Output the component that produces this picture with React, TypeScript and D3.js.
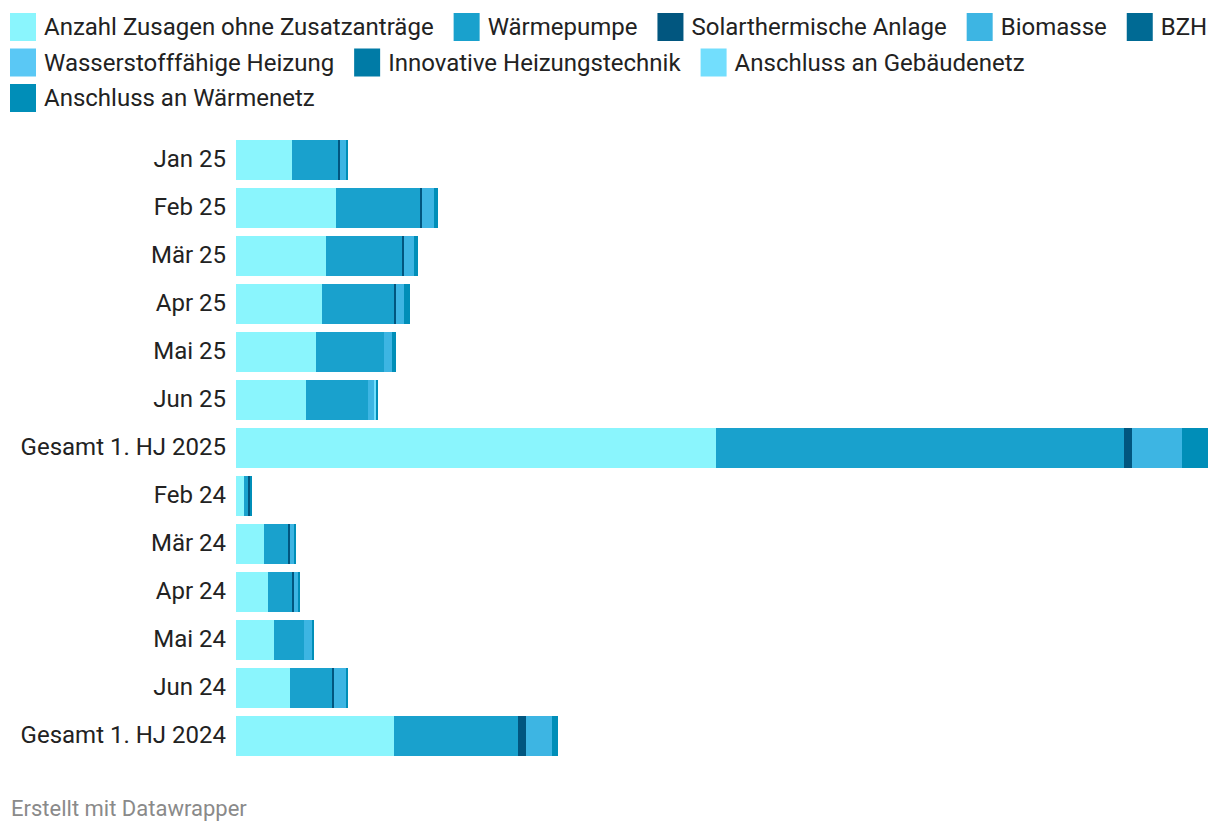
import React, { useEffect, useRef } from "react";
import * as d3 from "d3";

const categories = [
  "Jan 25", "Feb 25", "Mär 25", "Apr 25", "Mai 25", "Jun 25", "Gesamt 1. HJ 2025",
  "Feb 24", "Mär 24", "Apr 24", "Mai 24", "Jun 24", "Gesamt 1. HJ 2024",
];

const seriesNames = [
  "Anzahl Zusagen ohne Zusatzanträge", "Wärmepumpe", "Solarthermische Anlage", "Biomasse", "BZH",
  "Wasserstofffähige Heizung", "Innovative Heizungstechnik", "Anschluss an Gebäudenetz", "Anschluss an Wärmenetz",
];

const seriesColors = [
  "#8af5fd", "#19a1cd", "#01567f", "#3db5e3", "#006a94", "#5ac8f5", "#007ba6", "#72defd", "#008eb8",
];

// values per series, in category order (estimated)
const anzahl =      [5600, 10000, 9000, 8600, 8000, 7000, 48000, 800, 2800, 3200, 3800, 5400, 15800];
const waermepumpe = [4600, 8400, 7600, 7200, 6800, 6200, 40800, 400, 2400, 2400, 3000, 4200, 12400];
const solar =       [200, 200, 200, 200, 0, 0, 800, 200, 200, 200, 0, 200, 800];
const biomasse =    [600, 1200, 1000, 800, 800, 600, 5000, 0, 400, 400, 800, 1200, 2600];
const bzh =         [0, 0, 0, 0, 0, 0, 0, 0, 0, 0, 0, 0, 0];
const wasserstoff = [0, 0, 0, 0, 0, 0, 0, 0, 0, 0, 0, 0, 0];
const innovativ =   [0, 0, 0, 0, 0, 0, 0, 0, 0, 0, 0, 0, 0];
const gebaeudenetz = [0, 0, 0, 0, 0, 200, 0, 0, 0, 0, 0, 0, 0];
const waermenetz =  [200, 400, 400, 600, 400, 200, 2600, 200, 200, 200, 200, 200, 600];

const seriesValues = [anzahl, waermepumpe, solar, biomasse, bzh, wasserstoff, innovativ, gebaeudenetz, waermenetz];

const footerText = "Erstellt mit Datawrapper";

export default function App() {
  const ref = useRef<SVGSVGElement | null>(null);

  useEffect(() => {
    document.body.style.margin = "0";
    const svg = d3.select(ref.current);
    svg.selectAll("*").remove();
    const font = "Roboto, sans-serif";

    const rows = categories.map((c, i) => {
      const o: any = { cat: c };
      seriesNames.forEach((s, j) => (o[s] = seriesValues[j][i]));
      return o;
    });
    const stacked = d3.stack<any>().keys(seriesNames)(rows);
    const maxTotal = d3.max(rows, (r: any) => d3.sum(seriesNames, (s) => r[s])) as number;

    const x = d3.scaleLinear().domain([0, maxTotal]).range([236, 1208]);
    const y = d3.scaleBand<string>().domain(categories).range([136, 760]).paddingInner(8 / 48).paddingOuter(4 / 48);

    // Legend
    const lg = svg.append("g");
    let lx = 10;
    let row = 0;
    const rowCenters = [27, 62.5, 98];
    seriesNames.forEach((name, i) => {
      const g = lg.append("g");
      const t = g.append("text")
        .attr("x", 34).attr("y", 0).attr("dy", "0.35em")
        .attr("font-family", font).attr("font-size", 24).attr("fill", "#222")
        .text(name);
      const w = (t.node() as SVGTextElement).getComputedTextLength();
      const itemW = 34 + w;
      if (lx + itemW > 1214 && lx > 10) {
        row += 1;
        lx = 10;
      }
      g.append("rect").attr("x", 0).attr("y", -14).attr("width", 26).attr("height", 28).attr("fill", seriesColors[i]);
      g.attr("transform", `translate(${lx},${rowCenters[row]})`);
      lx += itemW + 20;
    });

    // Bars
    const bars = svg.append("g");
    stacked.forEach((layer, j) => {
      bars.append("g").attr("fill", seriesColors[j])
        .selectAll("rect")
        .data(layer.filter((d) => d[1] - d[0] > 0))
        .join("rect")
        .attr("x", (d) => x(d[0]))
        .attr("width", (d) => x(d[1]) - x(d[0]))
        .attr("y", (d) => y(d.data.cat) as number)
        .attr("height", y.bandwidth());
    });

    // Category labels
    svg.append("g").selectAll("text")
      .data(categories)
      .join("text")
      .attr("x", 226)
      .attr("y", (d) => (y(d) as number) + y.bandwidth() / 2)
      .attr("dy", "0.3em")
      .attr("text-anchor", "end")
      .attr("font-family", font).attr("font-size", 24).attr("fill", "#222")
      .text((d) => d);

    // Footer
    svg.append("text")
      .attr("x", 11).attr("y", 816)
      .attr("font-family", font).attr("font-size", 22).attr("fill", "#8a8a8a")
      .text(footerText);
  }, []);

  return (
    <svg
      ref={ref}
      width={1220}
      height={832}
      style={{ position: "absolute", left: 0, top: 0, display: "block", background: "#fff" }}
    />
  );
}
